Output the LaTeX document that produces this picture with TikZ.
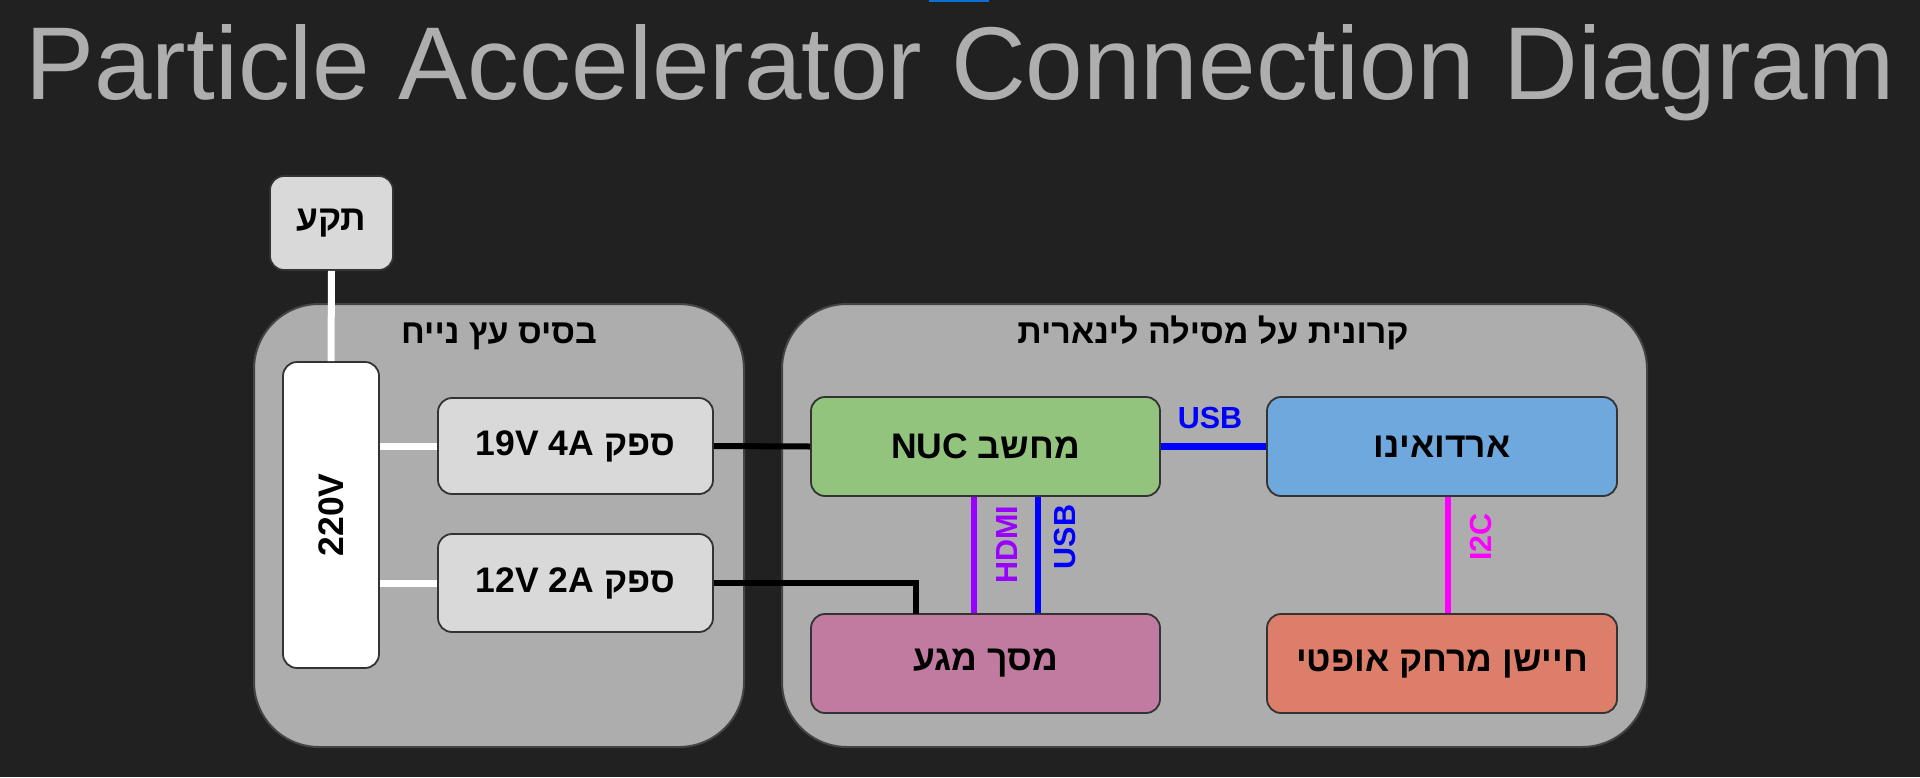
\documentclass[tikz,border=0pt]{standalone}
\usepackage{fontspec}
\setmainfont{Liberation Sans}
\newfontfamily\hebfont[Script=Hebrew]{Liberation Sans}
\TeXXeTstate=1
\newcommand{\heb}[1]{{\hebfont\beginR #1\endR}}
\newcommand{\lat}[1]{\beginL #1\endL{}}
\definecolor{bgc}{HTML}{212121}
\definecolor{titlec}{HTML}{AEAEAE}
\definecolor{grpfill}{HTML}{ADADAD}
\definecolor{grpline}{HTML}{444444}
\definecolor{boxline}{HTML}{333333}
\definecolor{boxgray}{HTML}{D9D9D9}
\definecolor{nucc}{HTML}{93C47D}
\definecolor{ardc}{HTML}{6FA8DC}
\definecolor{scrc}{HTML}{C27BA0}
\definecolor{senc}{HTML}{DD7E6B}
\definecolor{usbc}{HTML}{0000FF}
\definecolor{hdmic}{HTML}{9900FF}
\definecolor{i2cc}{HTML}{FF00FF}
\definecolor{barc}{HTML}{0B6FD6}
\tikzset{
  grp/.style={draw=grpline, fill=grpfill, line width=2pt, rounded corners=65pt, inner sep=0pt},
  box/.style={draw=boxline, line width=1.8pt, rounded corners=14pt, inner sep=0pt,
    font=\fontsize{35.5}{40}\selectfont\bfseries},
  grplabel/.style={font=\fontsize{34}{38}\selectfont\bfseries, inner sep=0pt, anchor=base},
  conlabel/.style={font=\fontsize{30.5}{34}\selectfont\bfseries, inner sep=0pt},
  wline/.style={draw=white, line width=7pt},
  bline/.style={draw=black, line width=6pt},
  cline/.style={line width=7pt},
}
\begin{document}
\begin{tikzpicture}[x=1pt,y=-1pt]
\useasboundingbox (0,0) rectangle (1920,777);
\fill[bgc] (0,0) rectangle (1920,777);
\fill[barc] (929,0) rectangle (989,2);
% title
\node[anchor=base, inner sep=0pt, text=titlec, font=\fontsize{103.5}{110}\selectfont] (title) at (960,99) {Particle Accelerator Connection Diagram};
% containers
\node[grp, minimum width=490pt, minimum height=443pt] (base) at (499,525.5) {};
\node[grp, minimum width=865pt, minimum height=443pt] (rail) at (1214.5,525.5) {};
\node[grplabel] (baselbl) at (499,343) {\heb{בסיס עץ נייח}};
\node[grplabel] (raillbl) at (1213,343) {\heb{קרונית על מסילה לינארית}};
% boxes
\node[box, fill=boxgray, minimum width=123pt, minimum height=94pt] (plug) at (331.5,223) {\heb{תקע}};
\node[box, fill=white, minimum width=96pt, minimum height=306pt] (v220) at (331,515) {};
\node[box, fill=boxgray, minimum width=275pt, minimum height=96pt] (psu19) at (575.5,446) {\heb{ספק \lat{19V 4A}}};
\node[box, fill=boxgray, minimum width=275pt, minimum height=98pt] (psu12) at (575.5,583) {\heb{ספק \lat{12V 2A}}};
\node[box, fill=nucc, minimum width=349pt, minimum height=99pt] (nuc) at (985.5,446.5) {\heb{מחשב \lat{NUC}}};
\node[box, fill=scrc, minimum width=349pt, minimum height=99pt] (screen) at (985.5,663.5) {\heb{מסך מגע}};
\node[box, fill=ardc, minimum width=350pt, minimum height=99pt] (ard) at (1442,446.5) {\heb{ארדואינו}};
\node[box, fill=senc, minimum width=350pt, minimum height=99pt] (sensor) at (1442,663.5) {\heb{חיישן מרחק אופטי}};
\node[rotate=90, inner sep=0pt, font=\fontsize{35.5}{40}\selectfont\bfseries] (v220lbl) at (331,515) {220V};
% connectors
\coordinate (scrin) at (916,614);
\draw[wline] (plug.south) -- (v220.north);
\draw[wline] (psu19.west -| v220.east) -- (psu19.west);
\draw[wline] (psu12.west -| v220.east) -- (psu12.west);
\draw[bline] (psu19.east) -- (nuc.west);
\draw[bline] (psu12.east) -| (scrin);
\draw[cline, usbc] (nuc.east) -- (ard.west);
\draw[cline, hdmic, line width=6pt] ([xshift=-11.5pt]nuc.south) -- ([xshift=-11.5pt]screen.north);
\draw[cline, usbc, line width=6pt] ([xshift=52.5pt]nuc.south) -- ([xshift=52.5pt]screen.north);
\draw[cline, i2cc, line width=6pt] ([xshift=6pt]ard.south) -- ([xshift=6pt]sensor.north);
% connector labels
\node[conlabel, text=usbc] (usblbl) at (1210,418) {USB};
\node[conlabel, text=hdmic, rotate=90] (hdmilbl) at (1007,545) {HDMI};
\node[conlabel, text=usbc, rotate=90] (usbvlbl) at (1065,537) {USB};
\node[conlabel, text=i2cc, rotate=90] (i2clbl) at (1481,537) {I2C};
\end{tikzpicture}
\end{document}
